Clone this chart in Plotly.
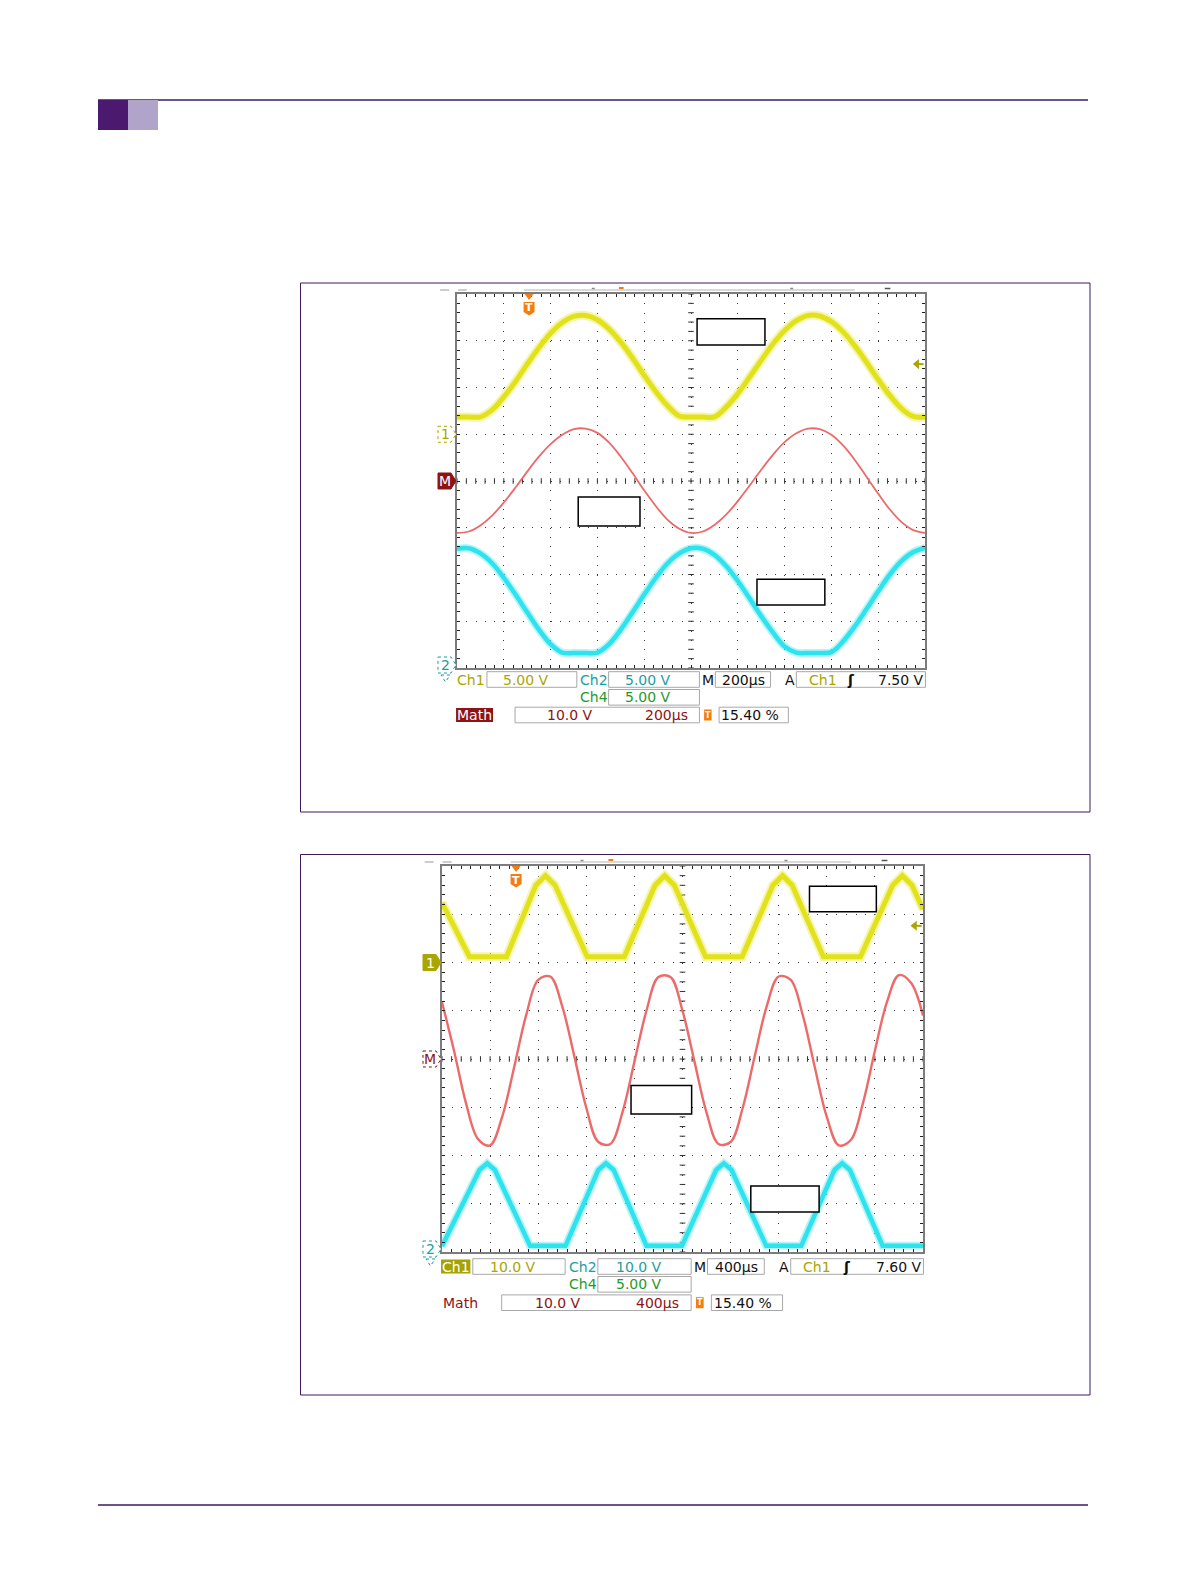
import plotly.graph_objects as go

W, H = 1190, 1586          # reference page size (pixel coordinates used below)
OFF = 8                    # browser body margin
FW, FH = W - 2 * OFF, H - 2 * OFF

# ---------------- DATA (screen divisions: x 0..10, y 0..8) ----------------
# Capture 1 : 200 us/div
t_a = [0.0, 0.25, 0.5, 0.75, 1.0, 1.25, 1.5, 1.75, 2.0, 2.25, 2.5, 2.75, 3.0, 3.25,
       3.5, 3.75, 4.0, 4.25, 4.5, 4.75, 5.0, 5.25, 5.5, 5.75, 6.0, 6.25, 6.5, 6.75,
       7.0, 7.25, 7.5, 7.75, 8.0, 8.25, 8.5, 8.75, 9.0, 9.25, 9.5, 9.75, 10.0]
ch1_a = [5.37, 5.37, 5.37, 5.52, 5.80, 6.13, 6.50, 6.85, 7.16, 7.39, 7.52, 7.54, 7.45, 7.25,
         6.97, 6.63, 6.26, 5.91, 5.61, 5.39, 5.37, 5.37, 5.37, 5.58, 5.87, 6.22, 6.58, 6.93,
         7.22, 7.43, 7.54, 7.53, 7.41, 7.19, 6.89, 6.54, 6.17, 5.83, 5.55, 5.38, 5.37]
math_a = [2.89, 2.92, 3.05, 3.26, 3.54, 3.86, 4.20, 4.52, 4.79, 4.99, 5.11, 5.12, 5.03, 4.82,
          4.52, 4.17, 3.80, 3.46, 3.17, 2.98, 2.89, 2.92, 3.06, 3.28, 3.57, 3.90, 4.24, 4.56,
          4.83, 5.02, 5.12, 5.11, 4.99, 4.76, 4.45, 4.09, 3.73, 3.39, 3.12, 2.95, 2.89]
ch2_a = [2.55, 2.56, 2.45, 2.24, 1.93, 1.57, 1.19, 0.82, 0.51, 0.33, 0.32, 0.32, 0.33, 0.51,
         0.82, 1.19, 1.57, 1.93, 2.24, 2.45, 2.56, 2.55, 2.42, 2.18, 1.86, 1.49, 1.11, 0.76,
         0.46, 0.33, 0.32, 0.32, 0.34, 0.57, 0.89, 1.26, 1.64, 2.00, 2.29, 2.48, 2.57]

# Capture 2 : 400 us/div
t_b = t_a
math_b = [5.18, 4.17, 3.08, 2.34, 2.21, 2.80, 3.83, 4.91, 5.64, 5.71, 5.09, 4.06, 2.99, 2.28,
          2.24, 2.89, 3.94, 5.00, 5.70, 5.70, 5.00, 3.94, 2.89, 2.24, 2.28, 2.98, 4.05, 5.09,
          5.71, 5.64, 4.91, 3.83, 2.80, 2.21, 2.32, 3.08, 4.17, 5.18, 5.74, 5.58, 4.90]
ch1_b_t = [0.0, 0.57, 1.34, 1.95, 2.15, 2.35, 3.02, 3.79, 4.43, 4.63, 4.83, 5.48, 6.24,
           6.88, 7.08, 7.28, 7.93, 8.70, 9.37, 9.57, 9.77, 10.0]
ch1_b = [7.24, 6.12, 6.12, 7.60, 7.80, 7.60, 6.12, 6.12, 7.60, 7.80, 7.60, 6.12, 6.12,
         7.60, 7.80, 7.60, 6.12, 6.12, 7.60, 7.80, 7.60, 7.10]
ch2_b_t = [0.0, 0.78, 0.94, 1.10, 1.83, 2.57, 3.25, 3.41, 3.57, 4.25, 4.99, 5.70, 5.86,
           6.02, 6.74, 7.47, 8.16, 8.32, 8.48, 9.16, 10.0]
ch2_b = [0.12, 1.70, 1.84, 1.70, 0.13, 0.13, 1.70, 1.84, 1.70, 0.13, 0.13, 1.70, 1.84,
         1.70, 0.13, 0.13, 1.70, 1.84, 1.70, 0.13, 0.13]

# Readout texts
ch_names = ["Ch1", "Ch2", "Ch4", "Math"]
scales_a = ["5.00 V", "5.00 V", "5.00 V", "10.0 V"]
scales_b = ["10.0 V", "10.0 V", "5.00 V", "10.0 V"]
timebase_a = "200µs"
timebase_b = "400µs"
trig_a = "7.50 V"
trig_b = "7.60 V"
trig_pos = "15.40 %"
trig_pos_div = 1.54
ground_a = [5.0, 4.0, 0.0]   # Ch1, Math, Ch2 reference levels (div)
ground_b = [6.0, 4.0, 0.0]
trig_level_a = 6.5
trig_level_b = 6.76

# ---------------- STYLE ----------------
FONT = "DejaVu Sans"
OLIVE = "#aaa600"
TEAL = "#1c9ea6"
GREEN = "#1f9a2a"
DRED = "#8e1414"
ORANGE = "#f47d12"
YEL = "#e2e21c"
YEL_GLOW = "rgba(236,236,110,0.55)"
CYAN = "#2ee2ee"
CYAN_GLOW = "rgba(120,236,242,0.55)"
RED = "#ec6a6a"
PURPLE = "#3e1a5c"
BLACK = "#111111"
BOXGRAY = "#a8a8a8"

shapes = []
annotations = []


def P(x, y):
    return (x - OFF) / FW, 1 - (y - OFF) / FH


def rect(x0, y0, x1, y1, line=None, fill=None, lw=1, dash="solid", layer="above"):
    a0, b0 = P(x0, y0)
    a1, b1 = P(x1, y1)
    shapes.append(dict(type="rect", xref="paper", yref="paper", x0=a0, y0=b1, x1=a1, y1=b0,
                       line=dict(color=line if line else "rgba(0,0,0,0)",
                                 width=lw if line else 0, dash=dash),
                       fillcolor=fill if fill else "rgba(0,0,0,0)", layer=layer))


def seg(x0, y0, x1, y1, color, lw=1, dash="solid"):
    a0, b0 = P(x0, y0)
    a1, b1 = P(x1, y1)
    shapes.append(dict(type="line", xref="paper", yref="paper", x0=a0, y0=b0, x1=a1, y1=b1,
                       line=dict(color=color, width=lw, dash=dash), layer="above"))


def poly(points, line=None, fill=None, lw=1, dash="solid"):
    s = "M " + " L ".join("%.6f,%.6f" % P(x, y) for x, y in points) + " Z"
    shapes.append(dict(type="path", xref="paper", yref="paper", path=s,
                       line=dict(color=line if line else "rgba(0,0,0,0)",
                                 width=lw if line else 0, dash=dash),
                       fillcolor=fill if fill else "rgba(0,0,0,0)", layer="above"))


def text(x, y, s, color, size=14, anchor="center", bold=False):
    if bold:
        s = f"<b>{s}</b>"
    a, b = P(x, y)
    annotations.append(dict(x=a, y=b, xref="paper", yref="paper", text=s,
                            showarrow=False, xanchor=anchor, yanchor="middle",
                            font=dict(family=FONT, size=size, color=color), borderpad=0))


fig = go.Figure()


def axis_style(rng, step_px, domain, anchor):
    return dict(range=rng, domain=domain, anchor=anchor, dtick=1, tick0=0,
                showticklabels=False, showline=True, linecolor="#7c7c7c", linewidth=2,
                mirror="allticks", ticks="inside", ticklen=3, tickcolor="#222", tickwidth=1,
                showgrid=True, gridcolor="#3a3a3a", gridwidth=1,
                griddash=f"1px,{step_px - 1:.2f}px",
                zeroline=False, fixedrange=True,
                minor=dict(dtick=0.2, tick0=0, ticks="inside", ticklen=3, tickcolor="#222",
                           tickwidth=1, showgrid=False))


def scope(idx, L, T, R, B, t1, y1, tm, ym, t2, y2, grounds, trig_level, scales, timebase,
          trig, rows, filled_label, label_boxes, ch1_style, m_style):
    dx = (R - L) / 10.0
    dy = (B - T) / 8.0
    X = lambda d: L + d * dx
    Y = lambda v: B - v * dy
    xa = "x" if idx == 1 else "x2"
    ya = "y" if idx == 1 else "y2"

    # axes
    xl, yb = P(L, B)
    xr, yt_ = P(R, T)
    fig.update_layout(**{
        ("xaxis" if idx == 1 else "xaxis2"): axis_style([0, 10], dy * 0.2, [xl, xr], ya),
        ("yaxis" if idx == 1 else "yaxis2"): axis_style([0, 8], dx * 0.2, [yb, yt_], xa),
    })

    # centre graticule ticks
    xs = [i * 0.2 for i in range(51)]
    ys = [i * 0.2 for i in range(41)]
    fig.add_trace(go.Scatter(x=xs, y=[4] * len(xs), xaxis=xa, yaxis=ya, mode="markers",
                             marker=dict(symbol="line-ns", size=4,
                                         line=dict(width=1, color="#333")),
                             hoverinfo="skip"))
    fig.add_trace(go.Scatter(x=[5] * len(ys), y=ys, xaxis=xa, yaxis=ya, mode="markers",
                             marker=dict(symbol="line-ew", size=4,
                                         line=dict(width=1, color="#333")),
                             hoverinfo="skip"))

    # waveforms
    shp1 = "spline" if idx == 1 else "linear"
    fig.add_trace(go.Scatter(x=t1, y=y1, xaxis=xa, yaxis=ya, mode="lines",
                             line=dict(color=YEL_GLOW, width=9, shape=shp1), hoverinfo="skip"))
    fig.add_trace(go.Scatter(x=t1, y=y1, xaxis=xa, yaxis=ya, mode="lines",
                             line=dict(color=YEL, width=5, shape=shp1), hoverinfo="skip"))
    fig.add_trace(go.Scatter(x=tm, y=ym, xaxis=xa, yaxis=ya, mode="lines",
                             line=dict(color=RED, width=1.8 if idx == 1 else 2.4,
                                       shape="spline"), hoverinfo="skip"))
    fig.add_trace(go.Scatter(x=t2, y=y2, xaxis=xa, yaxis=ya, mode="lines",
                             line=dict(color=CYAN_GLOW, width=8, shape=shp1), hoverinfo="skip"))
    fig.add_trace(go.Scatter(x=t2, y=y2, xaxis=xa, yaxis=ya, mode="lines",
                             line=dict(color=CYAN, width=4.5, shape=shp1), hoverinfo="skip"))

    # empty label boxes (div coords)
    for (bx0, bx1, by0, by1) in label_boxes:
        rect(X(bx0), Y(by1), X(bx1), Y(by0), line="black", fill="white", lw=1.5)

    # top record bar
    ty = T - 4
    seg(X(-0.36), ty, X(0.21), ty, "#9a9a9a", 1, "dash")
    seg(X(1.43), ty, X(8.5), ty, "#b4b4b4", 1)
    for d in (2.88, 7.12):
        seg(X(d), ty - 1.5, X(d) + 3, ty - 1.5, "#8a8a8a", 1.5)
    seg(X(3.46), ty - 2, X(3.56), ty - 2, ORANGE, 2)
    seg(X(9.14), ty - 1.5, X(9.26), ty - 1.5, "#555", 1.5)

    # trigger position marker
    xc = X(trig_pos_div)
    poly([(xc - 4.5, T), (xc + 4.5, T), (xc, T + 6)], fill=ORANGE)
    poly([(xc - 5.5, T + 8), (xc + 5.5, T + 8), (xc + 5.5, T + 18), (xc, T + 21.5),
          (xc - 5.5, T + 18)], fill=ORANGE)
    text(xc, T + 14, "T", "white", size=11, bold=True)

    # trigger level arrow (right)
    yt = Y(trig_level)
    poly([(X(9.74), yt), (X(9.87), yt - 5), (X(9.87), yt + 5)], fill=OLIVE)
    seg(X(9.85), yt, X(9.97), yt, OLIVE, 2)

    # left reference markers
    def lmarker(level, label, color, filled, dotted, caret=False):
        yc = min(Y(level), B - 3)
        x0, x1, h = L - 19, L - 1, 8
        pts = [(x0, yc - h), (x1 - 5, yc - h), (x1, yc), (x1 - 5, yc + h), (x0, yc + h)]
        poly(pts, line=color, fill=color if filled else "white", lw=1,
             dash="dot" if dotted else "solid")
        text((x0 + x1 - 5) / 2 + 0.5, yc, label, "white" if filled else color, size=14)
        if caret:
            poly([(x0 + 3, yc + h + 2), (x1 - 6, yc + h + 2), ((x0 + x1 - 3) / 2, yc + h + 9)],
                 line=color, fill="white", lw=1, dash="dot")

    lmarker(grounds[0], "1", OLIVE, ch1_style == "filled", ch1_style != "filled")
    lmarker(grounds[1], "M", DRED, m_style == "filled", m_style != "filled")
    lmarker(grounds[2], "2", TEAL, False, True, caret=True)

    # readout
    r1, r2, r3 = rows
    hh = 7.8

    def box(d0, d1, r):
        rect(X(d0), r - hh, X(d1), r + hh, line=BOXGRAY, lw=1)

    if filled_label == "Ch1":
        rect(X(-0.02), r1 - 7, X(0.59), r1 + 7, fill="#a6a200")
        text((X(-0.02) + X(0.59)) / 2, r1, ch_names[0], "white")
    else:
        text(X(-0.02), r1, ch_names[0], OLIVE, anchor="left")
    box(0.64, 2.56, r1)
    text(X(1.48), r1, scales[0], OLIVE)
    text(X(2.61), r1, ch_names[1], TEAL, anchor="left")
    box(3.24, 5.18, r1)
    text(X(4.09), r1, scales[1], TEAL)
    text(X(5.22), r1, "M", BLACK, anchor="left")
    box(5.52, 6.70, r1)
    text(X(6.12), r1, timebase, BLACK)
    text(X(6.99), r1, "A", BLACK, anchor="left")
    box(7.25, 10.01, r1)
    text(X(7.49), r1, ch_names[0], OLIVE, anchor="left")
    text(X(8.41), r1, "ʃ", BLACK, bold=True)
    text(X(10.0), r1, trig, BLACK, anchor="right")

    text(X(2.61), r2, ch_names[2], GREEN, anchor="left")
    box(3.24, 5.18, r2)
    text(X(4.09), r2, scales[2], GREEN)

    if filled_label == "Math":
        rect(X(-0.02), r3 - 7, X(0.77), r3 + 7, fill=DRED)
        text((X(-0.02) + X(0.77)) / 2, r3, ch_names[3], "white")
    else:
        text(X(0.0), r3, ch_names[3], DRED, anchor="left")
    box(1.24, 5.18, r3)
    text(X(2.42), r3, scales[3], DRED)
    text(X(4.48), r3, timebase, DRED)
    rect(X(5.28), r3 - 5.5, X(5.44), r3 + 5.5, fill=ORANGE)
    text((X(5.28) + X(5.44)) / 2, r3, "T", "white", size=8, bold=True)
    box(5.60, 7.08, r3)
    text(X(6.25), r3, trig_pos, BLACK)


# page furniture
seg(98, 100, 1088, 100, PURPLE, 1.5)
rect(98, 100, 128, 130, fill="#4b1a6e")
rect(128, 100, 158, 130, fill="#b1a4cb")
seg(98, 1505, 1088, 1505, PURPLE, 1.5)
rect(300.5, 283, 1090, 812, line=PURPLE, lw=1)
rect(300.5, 854.5, 1090, 1395, line=PURPLE, lw=1)

scope(1, 457, 294, 925, 668, t_a, ch1_a, t_a, math_a, t_a, ch2_a, ground_a, trig_level_a,
      scales_a, timebase_a, trig_a, (679.5, 697.3, 715.0), "Math",
      [(5.13, 6.58, 6.91, 7.47), (2.59, 3.91, 3.04, 3.66), (6.41, 7.86, 1.35, 1.90)],
      "outline", "filled")
scope(2, 442, 866, 923, 1252, ch1_b_t, ch1_b, t_b, math_b, ch2_b_t, ch2_b, ground_b,
      trig_level_b, scales_b, timebase_b, trig_b, (1266.5, 1284.3, 1302.7), "Ch1",
      [(7.64, 9.03, 7.05, 7.58), (3.93, 5.19, 2.86, 3.45), (6.42, 7.84, 0.83, 1.37)],
      "filled", "outline")

fig.update_layout(width=FW, height=FH, margin=dict(l=0, r=0, t=0, b=0, autoexpand=False),
                  paper_bgcolor="white", plot_bgcolor="white", showlegend=False,
                  shapes=shapes, annotations=annotations, hovermode=False)

fig.write_html("out.html")
